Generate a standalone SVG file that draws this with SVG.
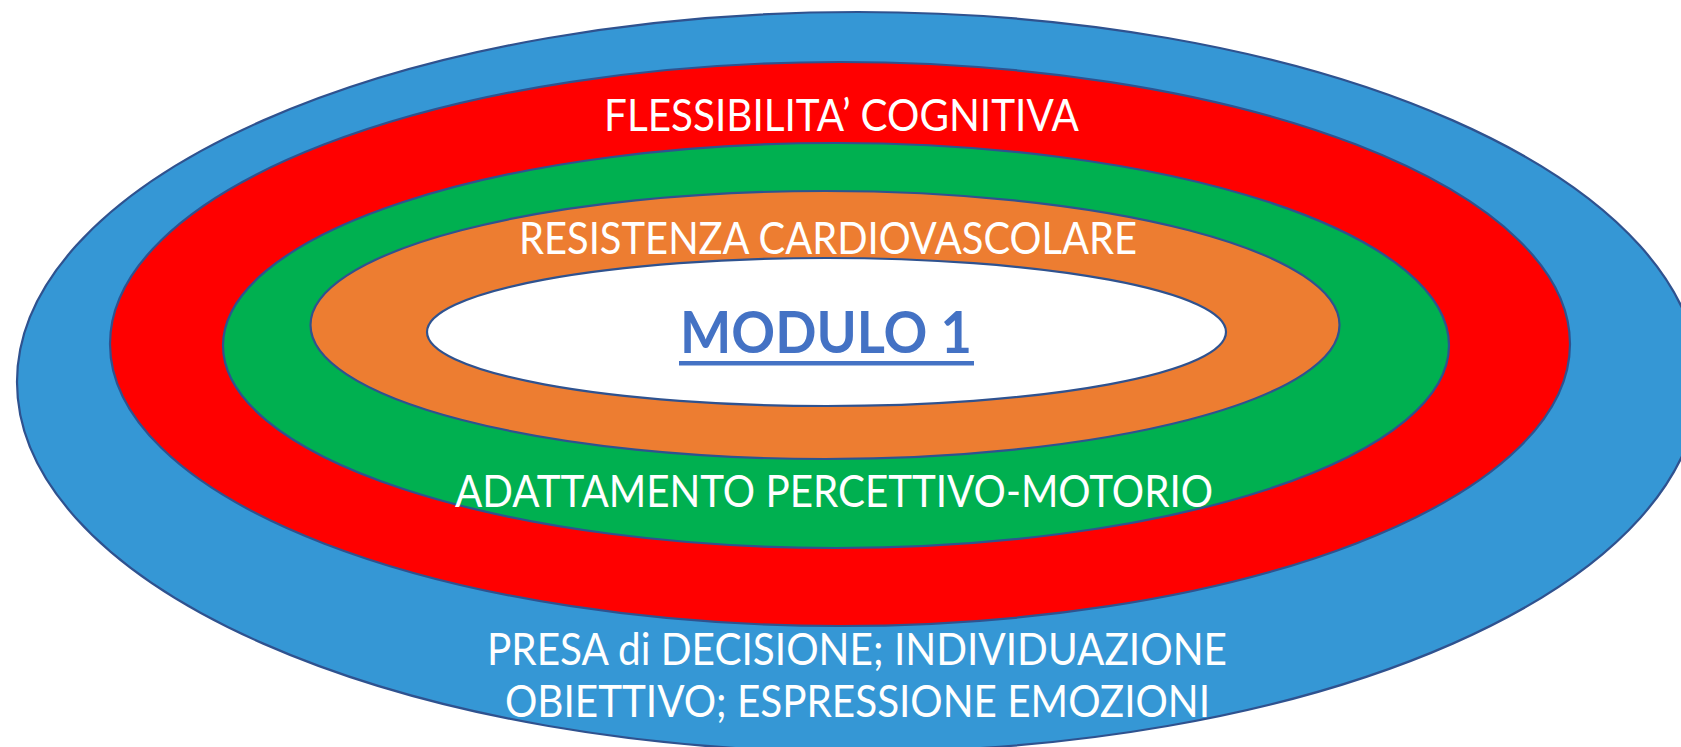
<svg xmlns="http://www.w3.org/2000/svg" width="1681" height="747" viewBox="0 0 1681 747">
<style>
.ring{stroke:#2F528F;stroke-width:2.2}
.lbl{font-family:Lato,"Open Sans","Liberation Sans",sans-serif;font-size:44px;fill:#FFFFFF;text-anchor:middle}
.title{font-family:Lato,"Open Sans","Liberation Sans",sans-serif;font-size:57px;font-weight:bold;fill:#4472C4;text-anchor:middle}
</style>
<rect width="1681" height="747" fill="#FFFFFF"/>
<g id="ring-blue">
<ellipse class="ring" cx="858" cy="382" rx="841" ry="370" fill="#3597D5"/>
<text class="lbl" x="857" y="665" textLength="740" lengthAdjust="spacingAndGlyphs">PRESA di DECISIONE; INDIVIDUAZIONE</text>
<text class="lbl" x="857.5" y="717" textLength="705" lengthAdjust="spacingAndGlyphs">OBIETTIVO; ESPRESSIONE EMOZIONI</text>
</g>
<g id="ring-red">
<ellipse class="ring" cx="840" cy="344" rx="730" ry="282" fill="#FF0000"/>
<text class="lbl" x="841.5" y="131" textLength="475" lengthAdjust="spacingAndGlyphs">FLESSIBILITA’ COGNITIVA</text>
</g>
<g id="ring-green">
<ellipse class="ring" cx="836" cy="345.5" rx="613" ry="202.5" fill="#00B050"/>
<text class="lbl" x="834" y="507" textLength="758" lengthAdjust="spacingAndGlyphs">ADATTAMENTO PERCETTIVO-MOTORIO</text>
</g>
<g id="ring-orange">
<ellipse class="ring" cx="825" cy="325" rx="514.5" ry="134" fill="#ED7D31"/>
<text class="lbl" x="828" y="254" textLength="618" lengthAdjust="spacingAndGlyphs">RESISTENZA CARDIOVASCOLARE</text>
</g>
<g id="core">
<ellipse class="ring" cx="826.5" cy="332" rx="399.5" ry="74" fill="#FFFFFF"/>
<text class="title" x="826" y="353" textLength="292" lengthAdjust="spacingAndGlyphs">MODULO 1</text>
<rect x="679" y="361" width="295" height="4.5" fill="#4472C4"/>
</g>
<g id="connectors"/>
</svg>
